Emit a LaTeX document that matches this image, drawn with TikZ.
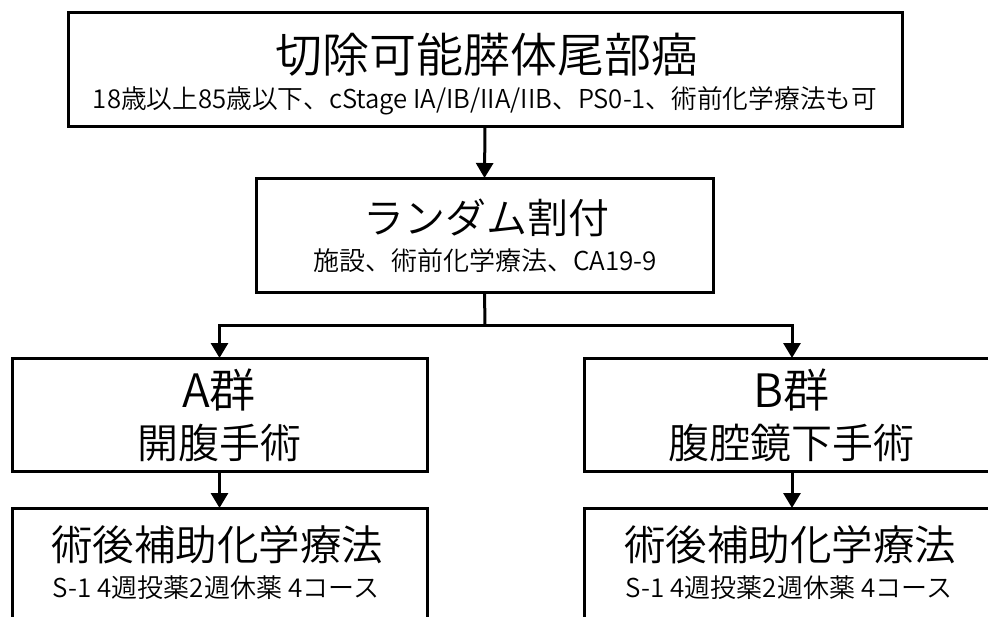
\documentclass[tikz,border=0pt]{standalone}
\usepackage{fontspec}
\setmainfont{Noto Sans CJK JP}[UprightFont={* DemiLight}]
\usetikzlibrary{arrows.meta}
\tikzset{
  box/.style={draw=black, line width=3pt, fill=white, inner sep=0pt, outer sep=0pt, rectangle},
  lbl/.style={inner sep=0pt, anchor=center, text=black},
  conn/.style={line width=3pt, draw=black},
  arr/.style={conn, -{Triangle[width=17pt,length=15pt]}},
}
\begin{document}
\begin{tikzpicture}[x=1pt,y=-1pt]
\useasboundingbox (0,0) rectangle (988,616);
\clip (0,0) rectangle (988,616);
\fill[white] (0,0) rectangle (988,616);
% boxes
\node[box, minimum width=834pt, minimum height=114pt] (top) at (485,69) {};
\node[box, minimum width=457pt, minimum height=114pt] (rand) at (484.5,235) {};
\node[box, minimum width=415pt, minimum height=113pt] (A) at (219.5,414.5) {};
\node[box, minimum width=416pt, minimum height=113pt] (B) at (792,414.5) {};
\node[box, minimum width=415pt, minimum height=140pt] (A2) at (219.5,578) {};
\node[box, minimum width=416pt, minimum height=140pt] (B2) at (792,578) {};
% texts
\node[lbl, font=\fontsize{47}{47}\selectfont] (t1) at (487,55) {切除可能膵体尾部癌};
\node[lbl, font=\fontsize{26}{26}\selectfont] (t2) at (485,101) {\resizebox{784pt}{\height}{18歳以上85歳以下、cStage IA/IB/IIA/IIB、PS0-1、術前化学療法も可}};
\node[lbl, font=\fontsize{41}{41}\selectfont] (r1) at (486,218) {ランダム割付};
\node[lbl, font=\fontsize{26}{26}\selectfont] (r2) at (485,261) {施設、術前化学療法、CA19-9};
\node[lbl, font=\fontsize{46}{46}\selectfont] (a1) at (219,390) {A群};
\node[lbl, font=\fontsize{41}{41}\selectfont] (a2) at (219,443) {開腹手術};
\node[lbl, font=\fontsize{46}{46}\selectfont] (b1) at (791,390) {B群};
\node[lbl, font=\fontsize{41}{41}\selectfont] (b2) at (791,443) {腹腔鏡下手術};
\node[lbl, font=\fontsize{41.5}{41.5}\selectfont] (a3) at (217,545) {術後補助化学療法};
\node[lbl, font=\fontsize{26}{26}\selectfont] (a4) at (216,588) {S-1 4週投薬2週休薬 4コース};
\node[lbl, font=\fontsize{41.5}{41.5}\selectfont] (b3) at (790,545) {術後補助化学療法};
\node[lbl, font=\fontsize{26}{26}\selectfont] (b4) at (789,588) {S-1 4週投薬2週休薬 4コース};
% connectors
\coordinate (br) at (485,325);
\draw[arr] (top.south) -- (rand.north);
\draw[conn] (rand.south) -- (br);
\draw[arr] (br) -| (A.north);
\draw[arr] (br) -| (B.north);
\draw[arr] (A.south) -- (A2.north);
\draw[arr] (B.south) -- (B2.north);
\end{tikzpicture}
\end{document}
